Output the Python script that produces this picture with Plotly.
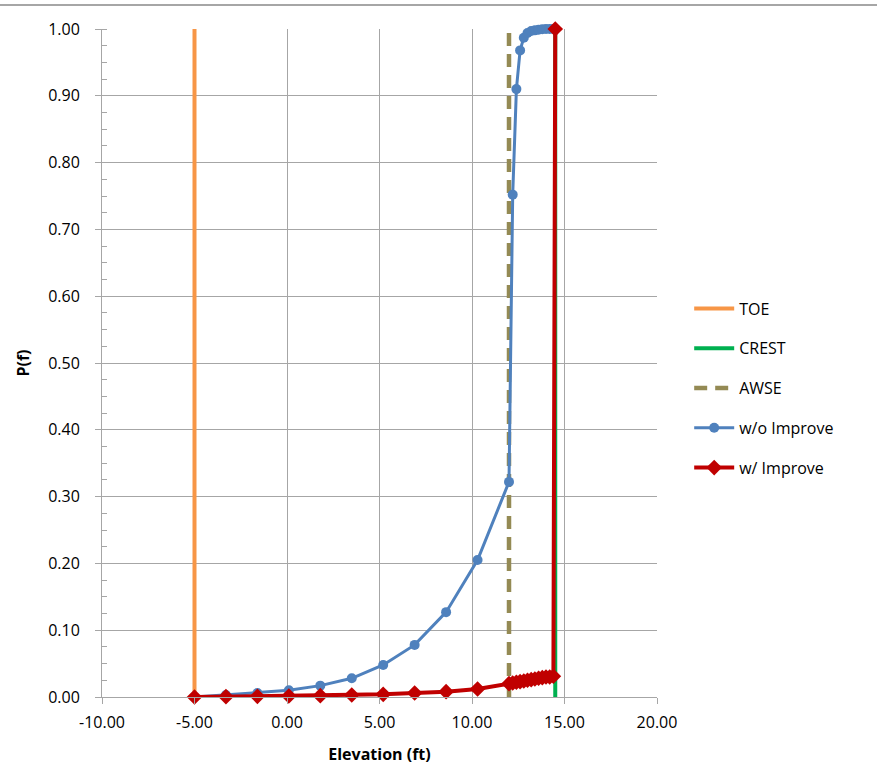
import plotly.graph_objects as go

# Data
toe_x = [-5.0, -5.0]
toe_y = [0.0, 1.0]
crest_x = [14.5, 14.5]
crest_y = [0.0, 1.0]
awse_x = [12.0, 12.0]
awse_y = [0.0, 1.0]

elev = [-5.0, -3.3, -1.6, 0.1, 1.8, 3.5, 5.2, 6.9, 8.6, 10.3, 12.0,
        12.2, 12.4, 12.6, 12.8, 13.0, 13.2, 13.4, 13.6, 13.8, 14.0, 14.2, 14.4, 14.5]
p_wo = [0.0, 0.003, 0.006, 0.010, 0.017, 0.028, 0.048, 0.078, 0.127, 0.205, 0.322,
        0.752, 0.910, 0.968, 0.987, 0.994, 0.997, 0.998, 0.999, 0.9995, 1.0, 1.0, 1.0, 1.0]
p_w = [0.0, 0.0005, 0.001, 0.0015, 0.002, 0.003, 0.004, 0.006, 0.008, 0.012, 0.020,
       0.021, 0.022, 0.023, 0.024, 0.025, 0.026, 0.027, 0.028, 0.029, 0.030, 0.030, 0.031, 1.0]

x_ticks = [-10, -5, 0, 5, 10, 15, 20]
x_ticktext = ["-10.00", "-5.00", "0.00", "5.00", "10.00", "15.00", "20.00"]
y_ticks = [0.0, 0.1, 0.2, 0.3, 0.4, 0.5, 0.6, 0.7, 0.8, 0.9, 1.0]

FONT = "Open Sans"
GRID = "#A6A6A6"

fig = go.Figure()
fig.add_trace(go.Scatter(x=toe_x, y=toe_y, mode="lines", name="TOE", legendgroup="g1",
                         line=dict(color="#F79646", width=4), cliponaxis=False))
fig.add_trace(go.Scatter(x=crest_x, y=crest_y, mode="lines", name="CREST", legendgroup="g2",
                         line=dict(color="#00B050", width=4), cliponaxis=False))
fig.add_trace(go.Scatter(x=awse_x, y=awse_y, mode="lines", name="AWSE", legendgroup="g3",
                         line=dict(color="#948A54", width=4.5, dash="13px,8px"), cliponaxis=False))
fig.add_trace(go.Scatter(x=elev, y=p_wo, mode="lines+markers", name="w/o Improve", legendgroup="g4",
                         line=dict(color="#4F81BD", width=3),
                         marker=dict(symbol="circle", size=10, color="#4F81BD"),
                         cliponaxis=False))
fig.add_trace(go.Scatter(x=elev, y=p_w, mode="lines+markers", name="w/ Improve", legendgroup="g5",
                         line=dict(color="#C00000", width=4),
                         marker=dict(symbol="diamond", size=12, color="#C00000"),
                         cliponaxis=False))

fig.update_layout(
    width=877, height=771,
    margin=dict(l=102, r=220, t=29, b=74),
    paper_bgcolor="white", plot_bgcolor="white",
    font=dict(family=FONT, size=15, color="#000000"),
    showlegend=True,
    legend=dict(x=1.058, y=0.4626, xanchor="left", yanchor="middle",
                font=dict(family=FONT, size=16, color="#000000"),
                tracegroupgap=16, itemwidth=40, bgcolor="rgba(0,0,0,0)"),
    xaxis=dict(range=[-10, 20], tickvals=x_ticks, ticktext=x_ticktext,
               showgrid=True, gridcolor=GRID, gridwidth=1,
               showline=True, linecolor=GRID, linewidth=1,
               ticks="outside", ticklen=6, tickcolor=GRID,
               zeroline=False, tickfont=dict(size=16), ticklabelstandoff=5,
               title=dict(text="<b>Elevation (ft)</b>", font=dict(size=16), standoff=16)),
    yaxis=dict(range=[0, 1], tickvals=y_ticks, tickformat=".2f",
               showgrid=True, gridcolor=GRID, gridwidth=1,
               showline=True, linecolor=GRID, linewidth=1,
               ticks="outside", ticklen=6, tickcolor=GRID,
               zeroline=False, tickfont=dict(size=16), ticklabelstandoff=12,
               minor=dict(dtick=0.025, ticks="inside", ticklen=5, tickcolor=GRID, showgrid=False),
               title=dict(text="<b>P(f)</b>", font=dict(size=16), standoff=14)),
    shapes=[dict(type="line", xref="paper", yref="paper", x0=-0.5, x1=1.5,
                 y0=1.036, y1=1.036, line=dict(color="#A6A6A6", width=2))],
)

fig.write_html("out.html", config={"displayModeBar": False},
               post_script="document.body.style.margin='0';")
